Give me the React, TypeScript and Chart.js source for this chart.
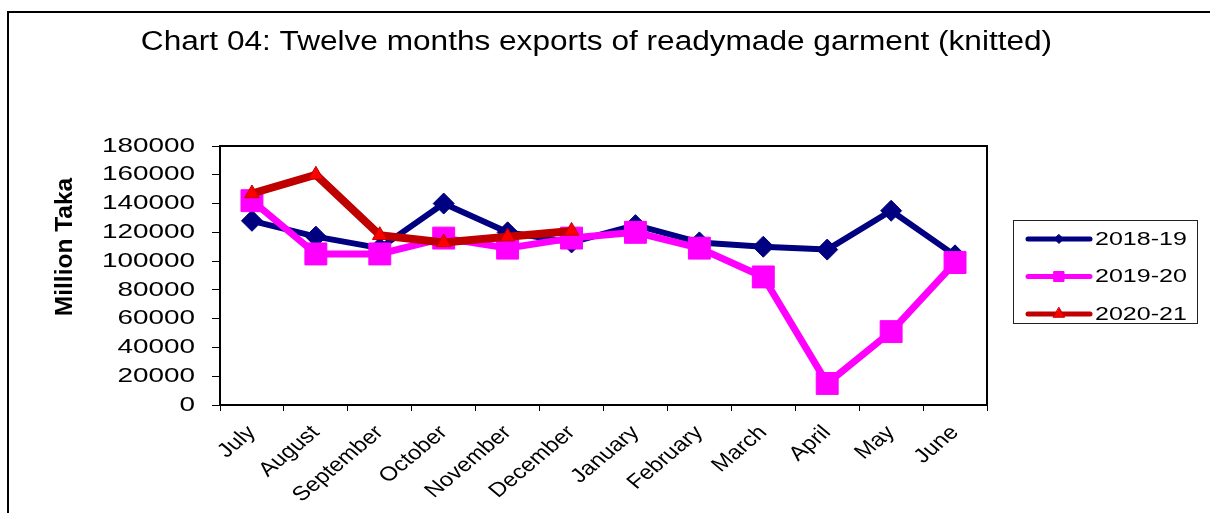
import React, { useEffect, useRef } from 'react';
import { Chart, registerables } from 'chart.js';

Chart.register(...registerables);

// ---- data ----
const months = ['July', 'August', 'September', 'October', 'November', 'December', 'January', 'February', 'March', 'April', 'May', 'June'];
const seriesLabels = ['2018-19', '2019-20', '2020-21'];
const exports1819 = [128000, 117000, 109000, 140000, 120000, 113000, 125000, 113000, 110000, 108000, 135000, 104000];
const exports1920 = [142000, 105000, 105000, 116000, 109000, 116000, 120000, 109000, 89000, 15000, 51000, 99000];
const exports2021 = [147000, 160000, 118000, 113000, 117000, 121000];
const yMin = 0;
const yMax = 180000;
const yStep = 20000;
const chartTitle = 'Chart 04: Twelve months exports of readymade garment (knitted)';
const yAxisTitle = 'Million Taka';

// ---- style ----
const FONT = "'Liberation Sans', Arial, sans-serif";
// horizontal (page-direction) text stretch per font size: the reference text is drawn wide
const TEXT_STRETCH: Record<string, number> = { '27': 1.17, '20.5': 1.36, '20': 1.2, '17.5': 1.43 };

function stretchFor(font: string): number {
  const m = /(\d+(?:\.\d+)?)px/.exec(font);
  if (!m) return 1;
  const k = TEXT_STRETCH[String(parseFloat(m[1]))];
  return k === undefined ? 1 : k;
}

function stretchText(ctx: any) {
  if (ctx.__stretched) return;
  ctx.__stretched = true;
  const fill = ctx.fillText.bind(ctx);
  const measure = ctx.measureText.bind(ctx);
  ctx.fillText = (text: string, x: number, y: number, maxWidth?: number) => {
    const k = stretchFor(ctx.font);
    const hasMax = !(maxWidth === undefined || maxWidth === null);
    if (k === 1) {
      if (hasMax) fill(text, x, y, maxWidth); else fill(text, x, y);
      return;
    }
    const t = ctx.getTransform();
    const p = t.transformPoint(new DOMPoint(x, y));
    ctx.save();
    ctx.setTransform(new DOMMatrix().translate(p.x, p.y).scale(k, 1).translate(-p.x, -p.y).multiply(t));
    if (hasMax) fill(text, x, y, (maxWidth as number) / k); else fill(text, x, y);
    ctx.restore();
  };
  ctx.measureText = (text: string) => {
    const m = measure(text);
    const k = stretchFor(ctx.font);
    if (k === 1) return m;
    return {
      width: m.width * k,
      actualBoundingBoxLeft: m.actualBoundingBoxLeft * k,
      actualBoundingBoxRight: m.actualBoundingBoxRight * k,
      actualBoundingBoxAscent: m.actualBoundingBoxAscent,
      actualBoundingBoxDescent: m.actualBoundingBoxDescent,
      fontBoundingBoxAscent: m.fontBoundingBoxAscent,
      fontBoundingBoxDescent: m.fontBoundingBoxDescent,
    };
  };
}

const decorPlugin = {
  id: 'decor',
  beforeDraw(chart: any) {
    const ctx = chart.ctx;
    ctx.save();
    ctx.fillStyle = '#ffffff';
    ctx.fillRect(0, 0, chart.width, chart.height);
    ctx.fillStyle = '#000000';
    ctx.fillRect(7, 11, 2, chart.height - 11);
    ctx.fillRect(7, 11, chart.width - 7, 2);
    ctx.restore();
  },
  beforeDatasetsDraw(chart: any) {
    const { ctx, chartArea } = chart;
    ctx.save();
    ctx.strokeStyle = '#000000';
    ctx.lineWidth = 2;
    ctx.strokeRect(chartArea.left, chartArea.top, chartArea.right - chartArea.left, chartArea.bottom - chartArea.top);
    ctx.restore();
  },
  afterDraw(chart: any) {
    const ctx = chart.ctx;
    // y axis title
    ctx.save();
    ctx.translate(65, 247);
    ctx.rotate(-Math.PI / 2);
    ctx.font = `bold 24.5px ${FONT}`;
    ctx.fillStyle = '#000000';
    ctx.textAlign = 'center';
    ctx.textBaseline = 'middle';
    ctx.fillText(yAxisTitle, 0, 0);
    ctx.restore();

    // legend
    const box = { left: 1013, top: 220, right: 1197, bottom: 323 };
    ctx.save();
    ctx.strokeStyle = '#222222';
    ctx.lineWidth = 1;
    ctx.strokeRect(box.left + 0.5, box.top + 0.5, box.right - box.left, box.bottom - box.top);
    chart.data.datasets.forEach((ds: any, i: number) => {
      const y = 239 + i * 37.5;
      const x0 = 1028;
      const x1 = 1090;
      const cx = (x0 + x1) / 2;
      ctx.strokeStyle = ds.borderColor;
      ctx.lineWidth = 5;
      ctx.lineCap = 'round';
      ctx.beginPath();
      ctx.moveTo(x0, y);
      ctx.lineTo(x1, y);
      ctx.stroke();
      ctx.fillStyle = ds.pointBackgroundColor;
      ctx.strokeStyle = ds.pointBorderColor;
      ctx.lineWidth = 1;
      ctx.beginPath();
      if (ds.pointStyle === 'rectRot') {
        const r = 4.5;
        ctx.moveTo(cx, y - r);
        ctx.lineTo(cx + r, y);
        ctx.lineTo(cx, y + r);
        ctx.lineTo(cx - r, y);
        ctx.closePath();
      } else if (ds.pointStyle === 'rect') {
        ctx.rect(cx - 5, y - 5, 10, 10);
      } else {
        const r = 6.5;
        ctx.moveTo(cx, y - r);
        ctx.lineTo(cx + r * 0.866, y + r * 0.5);
        ctx.lineTo(cx - r * 0.866, y + r * 0.5);
        ctx.closePath();
      }
      ctx.fill();
      ctx.stroke();
      ctx.fillStyle = '#000000';
      ctx.font = `17.5px ${FONT}`;
      ctx.textAlign = 'left';
      ctx.textBaseline = 'middle';
      ctx.fillText(ds.label, 1095, y + 1);
    });
    ctx.restore();
  },
};

export default function App() {
  const ref = useRef<HTMLCanvasElement>(null);

  useEffect(() => {
    const canvas = ref.current;
    if (!canvas) return;
    const ctx = canvas.getContext('2d');
    if (!ctx) return;
    stretchText(ctx);

    const chart = new Chart(ctx, {
      type: 'line',
      data: {
        labels: months,
        datasets: [
          {
            label: seriesLabels[0],
            data: exports1819,
            borderColor: '#000080',
            backgroundColor: '#000080',
            borderWidth: 6,
            borderJoinStyle: 'round',
            pointStyle: 'rectRot',
            pointRadius: 10.5,
            pointBackgroundColor: '#000080',
            pointBorderColor: '#000080',
            pointBorderWidth: 1,
            order: 3,
          },
          {
            label: seriesLabels[1],
            data: exports1920,
            borderColor: '#FF00FF',
            backgroundColor: '#FF00FF',
            borderWidth: 7,
            borderJoinStyle: 'round',
            pointStyle: 'rect',
            pointRadius: 15.5,
            pointBackgroundColor: '#FF00FF',
            pointBorderColor: '#FF00FF',
            pointBorderWidth: 1,
            order: 2,
          },
          {
            label: seriesLabels[2],
            data: exports2021,
            borderColor: '#C00000',
            backgroundColor: '#FF0000',
            borderWidth: 8,
            borderJoinStyle: 'round',
            pointStyle: 'triangle',
            pointRadius: 8.5,
            pointBackgroundColor: '#FF0000',
            pointBorderColor: '#C00000',
            pointBorderWidth: 1,
            order: 1,
          },
        ] as any,
      },
      options: {
        animation: false,
        responsive: false,
        devicePixelRatio: 1,
        events: [],
        layout: { padding: { top: 0, left: 0, right: 17, bottom: 0 } },
        plugins: {
          legend: { display: false },
          tooltip: { enabled: false },
          title: {
            display: true,
            text: chartTitle,
            color: '#000000',
            font: { family: FONT, size: 27, weight: 'normal', lineHeight: 1.2 },
            padding: { top: 26.3, bottom: 87.3 },
          },
        },
        scales: {
          x: {
            type: 'category',
            offset: true,
            grid: { display: true, offset: true, drawOnChartArea: false, drawTicks: true, tickLength: 6, color: '#000000', lineWidth: 1 },
            border: { display: true, color: '#000000', width: 2 },
            ticks: {
              autoSkip: false,
              minRotation: 45,
              maxRotation: 45,
              padding: 10,
              color: '#000000',
              font: { family: FONT, size: 20 },
            },
            afterFit: (s: any) => { s.height = 108; },
          },
          y: {
            type: 'linear',
            position: 'left',
            min: yMin,
            max: yMax,
            grid: { display: true, drawOnChartArea: false, drawTicks: true, tickLength: 8, color: '#000000', lineWidth: 1 },
            border: { display: true, color: '#000000', width: 2 },
            ticks: {
              stepSize: yStep,
              padding: 17,
              color: '#000000',
              font: { family: FONT, size: 20.5 },
              callback: (v: any) => String(v),
            },
            afterFit: (s: any) => { s.width = 220; },
          },
          yRight: {
            type: 'linear',
            position: 'right',
            display: true,
            grid: { display: false },
            border: { display: false },
            ticks: { display: false },
            afterFit: (s: any) => { s.width = 206; },
          },
        },
      } as any,
      plugins: [decorPlugin],
    });

    return () => chart.destroy();
  }, []);

  return (
    <canvas
      ref={ref}
      width={1210}
      height={513}
      style={{ position: 'absolute', left: 0, top: 0, width: 1210, height: 513, display: 'block' }}
    />
  );
}
